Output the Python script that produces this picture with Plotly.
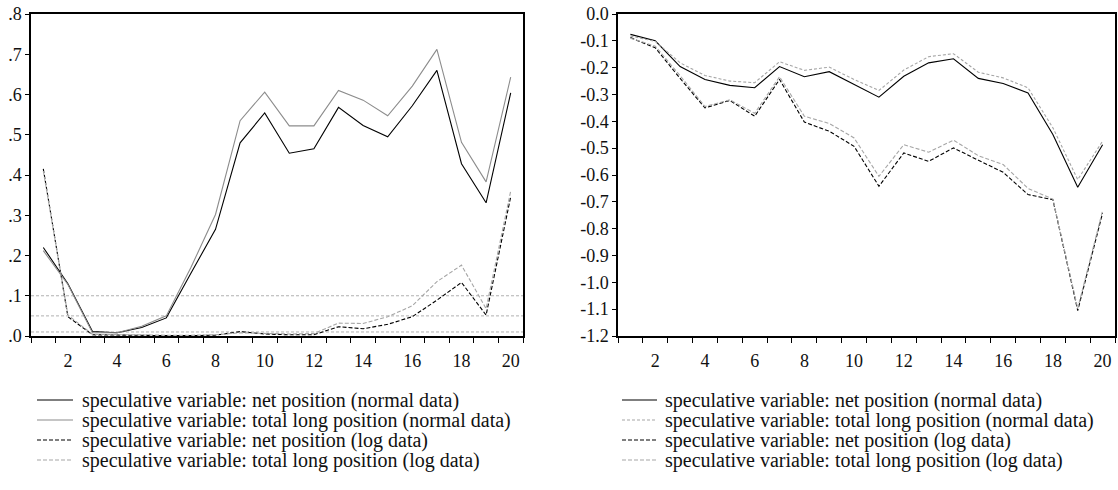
import plotly.graph_objects as go

# Forecast horizon (observations 1..20)
steps = list(range(1, 21))

# Left panel: p-values
net_normal_p = [0.220, 0.130, 0.011, 0.008, 0.021, 0.045, 0.156, 0.265, 0.480, 0.554,
                0.454, 0.465, 0.568, 0.523, 0.495, 0.572, 0.660, 0.428, 0.331, 0.604]
long_normal_p = [0.212, 0.128, 0.008, 0.008, 0.024, 0.050, 0.170, 0.302, 0.535, 0.606,
                 0.522, 0.522, 0.610, 0.586, 0.547, 0.621, 0.712, 0.481, 0.383, 0.643]
net_log_p = [0.415, 0.048, 0.003, 0.002, 0.001, 0.001, 0.001, 0.002, 0.011, 0.005,
             0.003, 0.003, 0.023, 0.018, 0.029, 0.048, 0.089, 0.133, 0.052, 0.346]
long_log_p = [0.410, 0.052, 0.004, 0.003, 0.002, 0.002, 0.002, 0.003, 0.008, 0.006,
              0.005, 0.006, 0.032, 0.031, 0.048, 0.075, 0.135, 0.176, 0.068, 0.360]
significance_levels = [0.10, 0.05, 0.01]

# Right panel: coefficient estimates
net_normal_c = [-0.076, -0.100, -0.196, -0.244, -0.266, -0.275, -0.196, -0.234, -0.215, -0.263,
                -0.310, -0.232, -0.182, -0.167, -0.240, -0.259, -0.294, -0.449, -0.646, -0.487]
long_normal_c = [-0.082, -0.102, -0.182, -0.229, -0.250, -0.256, -0.178, -0.210, -0.198, -0.244,
                 -0.285, -0.209, -0.159, -0.148, -0.217, -0.238, -0.275, -0.424, -0.617, -0.474]
net_log_c = [-0.088, -0.126, -0.240, -0.350, -0.322, -0.381, -0.244, -0.403, -0.437, -0.493,
             -0.642, -0.518, -0.549, -0.499, -0.545, -0.590, -0.673, -0.692, -1.105, -0.742]
long_log_c = [-0.090, -0.120, -0.230, -0.345, -0.320, -0.370, -0.234, -0.381, -0.408, -0.462,
              -0.605, -0.487, -0.515, -0.470, -0.528, -0.561, -0.650, -0.690, -1.097, -0.733]

left_yticks = [0.0, 0.1, 0.2, 0.3, 0.4, 0.5, 0.6, 0.7, 0.8]
left_ylabels = [".0", ".1", ".2", ".3", ".4", ".5", ".6", ".7", ".8"]
right_yticks = [0.0, -0.1, -0.2, -0.3, -0.4, -0.5, -0.6, -0.7, -0.8, -0.9, -1.0, -1.1, -1.2]
right_ylabels = ["0.0", "-0.1", "-0.2", "-0.3", "-0.4", "-0.5", "-0.6", "-0.7", "-0.8",
                 "-0.9", "-1.0", "-1.1", "-1.2"]
xlabels = [2, 4, 6, 8, 10, 12, 14, 16, 18, 20]

legend_names = [
    "speculative variable: net position (normal data)",
    "speculative variable: total long position (normal data)",
    "speculative variable: net position (log data)",
    "speculative variable: total long position (log data)",
]

W, H = 1118, 490
FONT = "'Liberation Serif', 'Times New Roman', 'DejaVu Serif', serif"
BLACK = "#000000"
GRAY = "#8c8c8c"
LGRAY = "#a6a6a6"

left_styles = [
    dict(color=BLACK, width=1.1, dash="solid"),
    dict(color=GRAY, width=1.1, dash="solid"),
    dict(color=BLACK, width=1.1, dash="4px,2px"),
    dict(color=LGRAY, width=1.1, dash="4px,2px"),
]
right_styles = [
    dict(color=BLACK, width=1.1, dash="solid"),
    dict(color=LGRAY, width=1.1, dash="3px,2px"),
    dict(color=BLACK, width=1.1, dash="4px,2px"),
    dict(color=LGRAY, width=1.1, dash="4px,2px"),
]

fig = go.Figure()

left_series = [net_normal_p, long_normal_p, net_log_p, long_log_p]
right_series = [net_normal_c, long_normal_c, net_log_c, long_log_c]

for ys, st, name in zip(left_series, left_styles, legend_names):
    fig.add_trace(go.Scatter(x=steps, y=ys, mode="lines", line=st, name=name,
                             xaxis="x", yaxis="y", showlegend=False))
for ys, st, name in zip(right_series, right_styles, legend_names):
    fig.add_trace(go.Scatter(x=steps, y=ys, mode="lines", line=st, name=name,
                             xaxis="x2", yaxis="y2", showlegend=False))

# Significance reference lines on the p-value panel
for lvl in significance_levels:
    fig.add_shape(type="line", xref="x domain", yref="y", x0=0, x1=1, y0=lvl, y1=lvl,
                  line=dict(color="#b0b0b0", width=1, dash="3px,2px"), layer="below")

TICK_SIZE = 18
LEGEND_SIZE = 20


def xaxis_cfg(domain):
    return dict(
        domain=domain, range=[0.5, 20.5], tickmode="array", tickvals=xlabels,
        ticktext=[str(v) for v in xlabels], ticks="outside", ticklen=8,
        tickcolor="rgba(0,0,0,0)", showgrid=False, zeroline=False, automargin=False,
        showline=True, linecolor=BLACK, linewidth=1.5, mirror=True,
        tickfont=dict(family=FONT, size=TICK_SIZE, color="#111"),
        minor=dict(tickmode="linear", tick0=0.5, dtick=1, ticks="outside",
                   ticklen=5, tickwidth=1.2, tickcolor=BLACK, showgrid=False),
        fixedrange=True,
    )


def yaxis_cfg(domain, rng, vals, labels, anchor):
    return dict(
        domain=domain, range=rng, tickmode="array", tickvals=vals, ticktext=labels,
        ticks="outside", ticklen=4, tickwidth=1.2, tickcolor=BLACK, anchor=anchor,
        showgrid=False, zeroline=False, showline=True, linecolor=BLACK, automargin=False,
        linewidth=1.5, mirror=True, tickfont=dict(family=FONT, size=TICK_SIZE, color="#111"),
        fixedrange=True,
    )


ydom = [1 - 336 / H, 1 - 14 / H]
left_dom = [31 / W, 523 / W]
right_dom = [618 / W, 1115 / W]

fig.update_layout(
    width=W, height=H, margin=dict(l=0, r=0, t=0, b=0, pad=0, autoexpand=False),
    paper_bgcolor="white", plot_bgcolor="white", showlegend=False,
    font=dict(family=FONT),
    xaxis=xaxis_cfg(left_dom) | dict(anchor="y"),
    yaxis=yaxis_cfg(ydom, [0, 0.8], left_yticks, left_ylabels, "x"),
    xaxis2=xaxis_cfg(right_dom) | dict(anchor="y2"),
    yaxis2=yaxis_cfg(ydom, [-1.2, 0.0], right_yticks, right_ylabels, "x2"),
)

# Legends below each panel
row_y = [400, 420, 440, 460]
for (x_line0, x_line1, x_text), styles in (((37, 73, 80), left_styles),
                                           ((622, 657, 663), right_styles)):
    for yy, st, name in zip(row_y, styles, legend_names):
        fig.add_shape(type="line", xref="paper", yref="paper",
                      x0=x_line0 / W, x1=x_line1 / W, y0=1 - yy / H, y1=1 - yy / H,
                      line=dict(color=st["color"], width=1.1, dash=st["dash"]))
        fig.add_annotation(xref="paper", yref="paper", x=x_text / W, y=1 - yy / H,
                           xanchor="left", yanchor="middle", showarrow=False,
                           text=name, font=dict(family=FONT, size=LEGEND_SIZE, color="#111"))

fig.write_html("out.html")
